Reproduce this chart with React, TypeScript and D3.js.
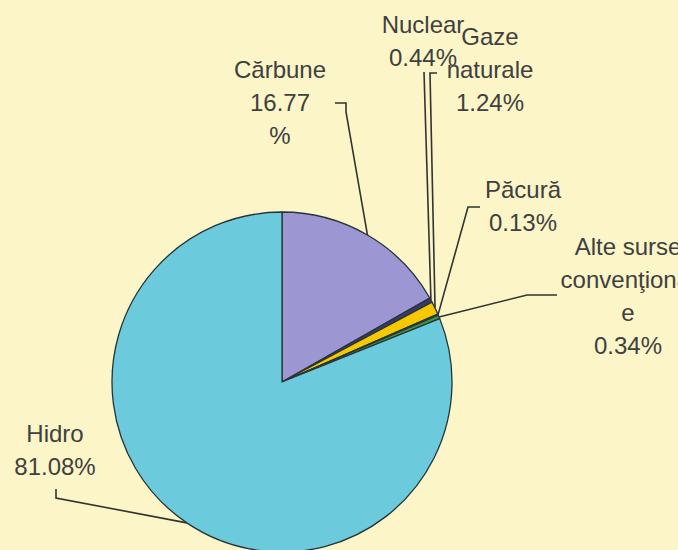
import React, { useRef, useEffect } from "react";
import * as d3 from "d3";

// data
const categories = [
  "Cărbune",
  "Nuclear",
  "Gaze naturale",
  "Păcură",
  "Alte surse convenţionale",
  "Hidro",
];
const shares = [16.77, 0.44, 1.24, 0.13, 0.34, 81.08];
const labelLines = [
  ["Cărbune", "16.77", "%"],
  ["Nuclear", "0.44%"],
  ["Gaze", "naturale", "1.24%"],
  ["Păcură", "0.13%"],
  ["Alte surse", "convenţional", "e", "0.34%"],
  ["Hidro", "81.08%"],
];
const colors = ["#9c97d2", "#3a3a6a", "#f6c800", "#d23c2c", "#3a9a48", "#6bcadb"];

const W = 678;
const H = 550;

const App = () => {
  const ref = useRef<SVGSVGElement>(null);

  useEffect(() => {
    const svg = d3.select(ref.current);
    svg.selectAll("*").remove();

    const cx = 282;
    const cy = 382;
    const r = 170;

    // label placement: [x center, first baseline]
    const labelPos = [
      [280, 78],
      [423, 33],
      [490, 45],
      [523, 198],
      [628, 255],
      [55, 442],
    ];
    const lineGap = 33;
    // leader start points (before the arc point)
    const leaders = [
      [[335, 103], [346, 103], [346, 112]],
      [[424, 72]],
      [[437, 73], [430, 73]],
      [[480, 207], [468, 207]],
      [[557, 295], [527, 295]],
      [[56, 489], [56, 498]],
    ];

    svg
      .append("rect")
      .attr("width", W)
      .attr("height", H)
      .attr("fill", "#fbf5c7");

    const pie = d3
      .pie<number>()
      .sort(null)
      .value((d) => d);
    const arcs = pie(shares);

    const arc = d3.arc<d3.PieArcDatum<number>>().innerRadius(0).outerRadius(r);
    const edge = d3.arc<d3.PieArcDatum<number>>().innerRadius(r).outerRadius(r);

    const g = svg.append("g").attr("transform", `translate(${cx},${cy})`);

    g.selectAll("path")
      .data(arcs)
      .join("path")
      .attr("d", arc)
      .attr("fill", (d, i) => colors[i])
      .attr("stroke", "#26343a")
      .attr("stroke-width", 1.3)
      .attr("stroke-linejoin", "round");

    // leader lines
    const line = d3.line();
    arcs.forEach((a, i) => {
      const [ex, ey] = edge.centroid(a);
      const pts = [...leaders[i], [cx + ex, cy + ey]] as [number, number][];
      svg
        .append("path")
        .attr("d", line(pts))
        .attr("fill", "none")
        .attr("stroke", "#333")
        .attr("stroke-width", 1.6);
    });

    // labels (the right one runs past the edge, as in the original)
    labelLines.forEach((lines, i) => {
      const t = svg
        .append("text")
        .attr("text-anchor", "middle")
        .attr("font-family", "'Liberation Sans', Arial, sans-serif")
        .attr("font-size", 24)
        .attr("fill", "#404040")
        .attr("aria-label", categories[i]);
      lines.forEach((s, k) => {
        t.append("tspan")
          .attr("x", labelPos[i][0])
          .attr("y", labelPos[i][1] + k * lineGap)
          .text(s);
      });
    });
  }, []);

  return (
    <svg
      ref={ref}
      width={W}
      height={H}
      style={{ position: "absolute", left: 0, top: 0, display: "block" }}
    />
  );
};

export default App;
